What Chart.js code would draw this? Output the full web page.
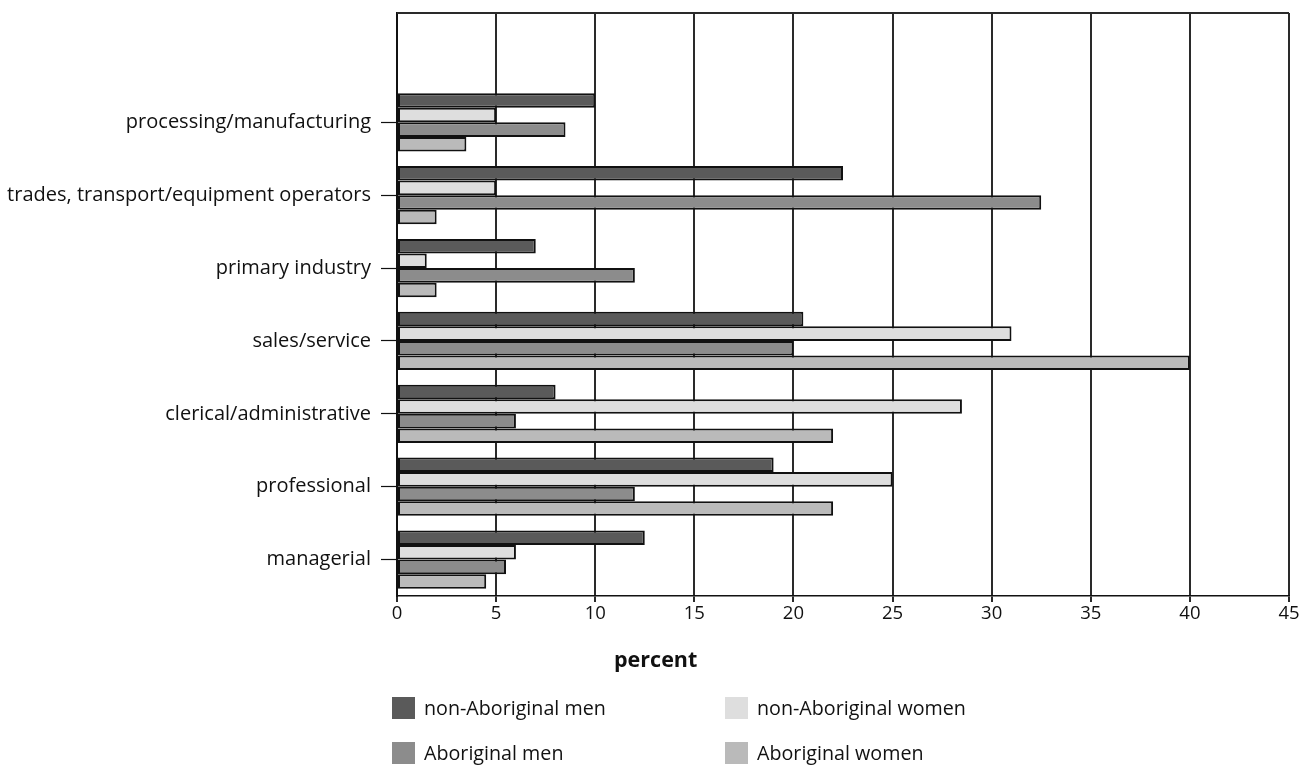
<!DOCTYPE html>
<html>
<head>
<meta charset="utf-8">
<script src="https://cdn.jsdelivr.net/npm/chart.js@4"></script>
<style>
  html, body { margin: 0; padding: 0; background: #fff; }
  #wrap { position: relative; width: 1299px; height: 771px; font-family: "Open Sans", sans-serif; color: #111; }
  #c { position: absolute; left: 0; top: 0; }
  .title { position: absolute; left: 614px; top: 645px; font-weight: bold; font-size: 21.5px; line-height: 28px; }
  .leg { position: absolute; font-size: 19.7px; line-height: 24px; height: 24px; display: flex; align-items: center; }
  .sw { width: 23px; height: 22px; margin-right: 9px; display: inline-block; }
</style>
</head>
<body>
<div id="wrap">
  <canvas id="c" width="1299" height="771"></canvas>
  <div class="title">percent</div>
  <div class="leg" style="left:392px; top:696px;"><span class="sw" style="background:#5a5a5a"></span>non-Aboriginal men</div>
  <div class="leg" style="left:725px; top:696px;"><span class="sw" style="background:#dedede"></span>non-Aboriginal women</div>
  <div class="leg" style="left:392px; top:741px;"><span class="sw" style="background:#8c8c8c"></span>Aboriginal men</div>
  <div class="leg" style="left:725px; top:741px;"><span class="sw" style="background:#bababa"></span>Aboriginal women</div>
</div>
<script>
const categories = ['', 'processing/manufacturing', 'trades, transport/equipment operators', 'primary industry', 'sales/service', 'clerical/administrative', 'professional', 'managerial'];
const nonAboriginalMen   = [null, 10, 22.5, 7, 20.5, 8, 19, 12.5];
const nonAboriginalWomen = [null, 5, 5, 1.5, 31, 28.5, 25, 6];
const aboriginalMen      = [null, 8.5, 32.5, 12, 20, 6, 12, 5.5];
const aboriginalWomen    = [null, 3.5, 2, 2, 40, 22, 22, 4.5];
const seriesNames = ['non-Aboriginal men', 'non-Aboriginal women', 'Aboriginal men', 'Aboriginal women'];
const xTicks = [0, 5, 10, 15, 20, 25, 30, 35, 40, 45];

const colors = ['#5a5a5a', '#dedede', '#8c8c8c', '#bababa'];
const seriesData = [nonAboriginalMen, nonAboriginalWomen, aboriginalMen, aboriginalWomen];

const frame = {
  id: 'frame',
  afterDatasetsDraw(chart) {
    const a = chart.chartArea, ctx = chart.ctx;
    ctx.save();
    ctx.strokeStyle = '#2a2a2a';
    ctx.lineWidth = 2;
    ctx.beginPath();
    ctx.moveTo(a.left, a.top);
    ctx.lineTo(a.right, a.top);
    ctx.stroke();
    ctx.restore();
  }
};

new Chart(document.getElementById('c'), {
  type: 'bar',
  data: {
    labels: categories,
    datasets: seriesData.map((d, i) => ({
      label: seriesNames[i],
      data: d,
      backgroundColor: colors[i],
      borderColor: '#111',
      borderWidth: 2,
      borderSkipped: false,
      categoryPercentage: 0.8,
      barPercentage: 1.0
    }))
  },
  options: {
    indexAxis: 'y',
    responsive: false,
    animation: false,
    events: [],
    layout: { padding: { top: 13, right: 10, left: 0, bottom: 0 } },
    plugins: { legend: { display: false }, tooltip: { enabled: false } },
    scales: {
      x: {
        min: 0, max: 45,
        afterBuildTicks: s => { s.ticks = xTicks.map(v => ({ value: v })); },
        afterFit: s => { s.height = 771 - 596; s.paddingRight = 0; },
        grid: { color: '#2a2a2a', lineWidth: 2, tickLength: 6, drawTicks: true },
        border: { color: '#111', width: 1.5 },
        ticks: { color: '#111', font: { family: 'Open Sans', size: 18.5 }, padding: 1 }
      },
      y: {
        afterFit: s => { s.width = 397; s.paddingTop = 0; s.paddingBottom = 0; },
        grid: {
          drawOnChartArea: false, offset: false, drawTicks: true, tickLength: 16,
          tickColor: ctx => ctx.index === 0 ? 'rgba(0,0,0,0)' : '#111', tickWidth: 1.2
        },
        border: { color: '#111', width: 2 },
        ticks: { color: '#111', font: { family: 'Open Sans', size: 20 }, padding: 10 }
      }
    }
  },
  plugins: [frame]
});
</script>
</body>
</html>
